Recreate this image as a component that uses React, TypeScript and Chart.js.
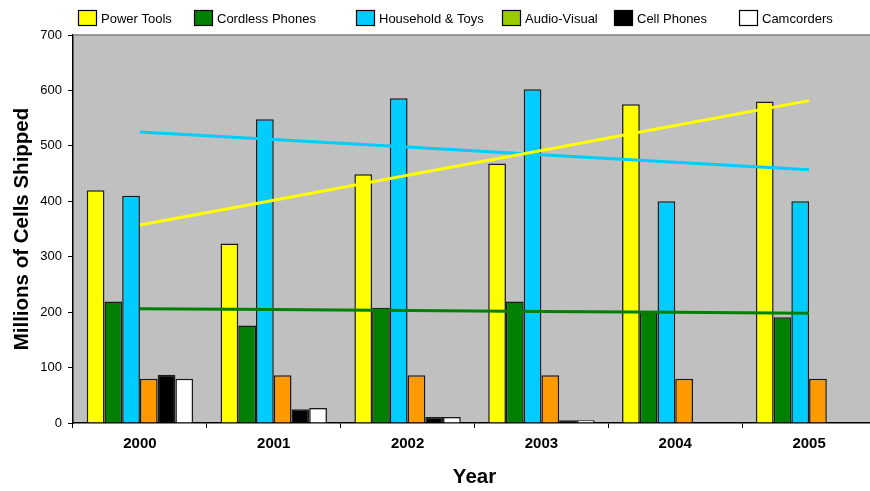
import React, { useEffect, useRef } from "react";
import { Chart, registerables } from "chart.js";

Chart.register(...registerables);

// Shipments by application, millions of cells
const years = ["2000", "2001", "2002", "2003", "2004", "2005"];
const powerTools = [420, 324, 449, 468, 575, 580];
const cordlessPhones = [219, 176, 208, 219, 200, 191];
const householdToys = [410, 548, 586, 602, 400, 400];
const audioVisual = [80, 86, 86, 86, 80, 80];
const cellPhones = [87, 25, 11, 5, 0, 0];
const camcorders = [80, 27, 11, 5, 0, 0];

const yTicks = { min: 0, max: 700, step: 100 };

const FONT = '"Liberation Sans", Arial, Helvetica, sans-serif';

// Least-squares linear trend over the category index
function linearTrend(values: number[]): number[] {
  const n = values.length;
  const mx = (n - 1) / 2;
  const my = values.reduce((a, b) => a + b, 0) / n;
  let sxy = 0;
  let sxx = 0;
  values.forEach((v, i) => {
    sxy += (i - mx) * (v - my);
    sxx += (i - mx) * (i - mx);
  });
  const slope = sxy / sxx;
  return values.map((_, i) => my + slope * (i - mx));
}

// Left edge of each legend entry
const legendX = [78, 194, 356, 502, 614, 739];

const chartDecor = {
  id: "chartDecor",
  beforeDraw(chart: any) {
    const { ctx, chartArea } = chart;
    ctx.save();
    ctx.fillStyle = "#c0c0c0";
    ctx.fillRect(chartArea.left, chartArea.top, chartArea.right - chartArea.left, chartArea.bottom - chartArea.top);
    ctx.restore();
  },
  afterDraw(chart: any) {
    const { ctx, chartArea } = chart;
    ctx.save();
    // plot-area top border
    ctx.strokeStyle = "#808080";
    ctx.lineWidth = 1.5;
    ctx.beginPath();
    ctx.moveTo(chartArea.left, chartArea.top);
    ctx.lineTo(chartArea.right, chartArea.top);
    ctx.stroke();

    // legend row
    const bars = chart.data.datasets.filter((d: any) => d.type !== "line");
    const cy = 18;
    const bw = 19;
    const bh = 16;
    ctx.font = `13px ${FONT}`;
    ctx.textBaseline = "middle";
    ctx.textAlign = "left";
    bars.forEach((d: any, i: number) => {
      const x = legendX[i];
      ctx.fillStyle = d.legendColor || d.backgroundColor;
      ctx.fillRect(x, cy - bh / 2, bw, bh);
      ctx.strokeStyle = "#000";
      ctx.lineWidth = 1.2;
      ctx.strokeRect(x + 0.5, cy - bh / 2 + 0.5, bw - 1, bh - 1);
      ctx.fillStyle = "#000";
      ctx.fillText(d.label, x + bw + 4, cy + 1);
    });
    ctx.restore();
  },
};

function barSet(label: string, data: number[], color: string, legendColor?: string) {
  return {
    type: "bar" as const,
    label,
    data,
    backgroundColor: color,
    legendColor,
    borderColor: "#1a1a1a",
    borderWidth: 1.5,
    borderSkipped: "bottom" as const,
    categoryPercentage: 0.795,
    barPercentage: 1.0,
    order: 1,
  };
}

function trendSet(label: string, data: number[], color: string) {
  return {
    type: "line" as const,
    label,
    data: linearTrend(data),
    borderColor: color,
    backgroundColor: color,
    borderWidth: 3,
    pointRadius: 0,
    tension: 0,
    fill: false,
    order: 0,
  };
}

export default function App() {
  const canvasRef = useRef<HTMLCanvasElement | null>(null);

  useEffect(() => {
    if (!canvasRef.current) return;
    const chart = new Chart(canvasRef.current, {
      type: "bar",
      data: {
        labels: years,
        datasets: [
          barSet("Power Tools", powerTools, "#ffff00"),
          barSet("Cordless Phones", cordlessPhones, "#008000"),
          barSet("Household & Toys", householdToys, "#00ccff"),
          barSet("Audio-Visual", audioVisual, "#ff9900", "#99cc00"),
          barSet("Cell Phones", cellPhones, "#000000"),
          barSet("Camcorders", camcorders, "#ffffff"),
          trendSet("Power Tools trend", powerTools, "#ffff00"),
          trendSet("Household & Toys trend", householdToys, "#00ccff"),
          trendSet("Cordless Phones trend", cordlessPhones, "#008000"),
        ] as any,
      },
      options: {
        responsive: false,
        animation: false,
        devicePixelRatio: 1,
        events: [],
        layout: { padding: { top: 35, right: 4, bottom: 0, left: 0 } },
        plugins: {
          legend: { display: false },
          tooltip: { enabled: false },
        },
        scales: {
          x: {
            ticks: {
              color: "#000",
              font: { family: FONT, size: 15, weight: "bold" },
              padding: 7,
            },
            grid: {
              offset: true,
              drawOnChartArea: false,
              drawTicks: true,
              tickLength: 5,
              color: "#000",
              lineWidth: 1,
            },
            border: { display: true, color: "#000", width: 1.5 },
            title: {
              display: true,
              text: "Year",
              color: "#000",
              font: { family: FONT, size: 20.5, weight: "bold" },
              padding: { top: 0, bottom: 1 },
            },
            afterFit: (s: any) => {
              s.height = 68;
            },
          },
          y: {
            min: yTicks.min,
            max: yTicks.max,
            ticks: {
              stepSize: yTicks.step,
              color: "#000",
              font: { family: FONT, size: 13 },
              padding: 6,
            },
            grid: {
              drawOnChartArea: false,
              drawTicks: true,
              tickLength: 5,
              color: "#000",
              lineWidth: 1,
            },
            border: { display: true, color: "#000", width: 1.5 },
            title: {
              display: true,
              text: "Millions of Cells Shipped",
              color: "#000",
              font: { family: FONT, size: 20.5, weight: "bold" },
              padding: { top: 10, bottom: 0 },
            },
            afterFit: (s: any) => {
              s.width = 73;
            },
          },
        },
      } as any,
      plugins: [chartDecor],
    });
    return () => chart.destroy();
  }, []);

  return (
    <div
      style={{
        position: "fixed",
        left: 0,
        top: 0,
        width: 870,
        height: 491,
        overflow: "hidden",
        background: "#ffffff",
      }}
    >
      <canvas ref={canvasRef} width={880} height={491} style={{ display: "block", width: 880, height: 491 }} />
    </div>
  );
}
